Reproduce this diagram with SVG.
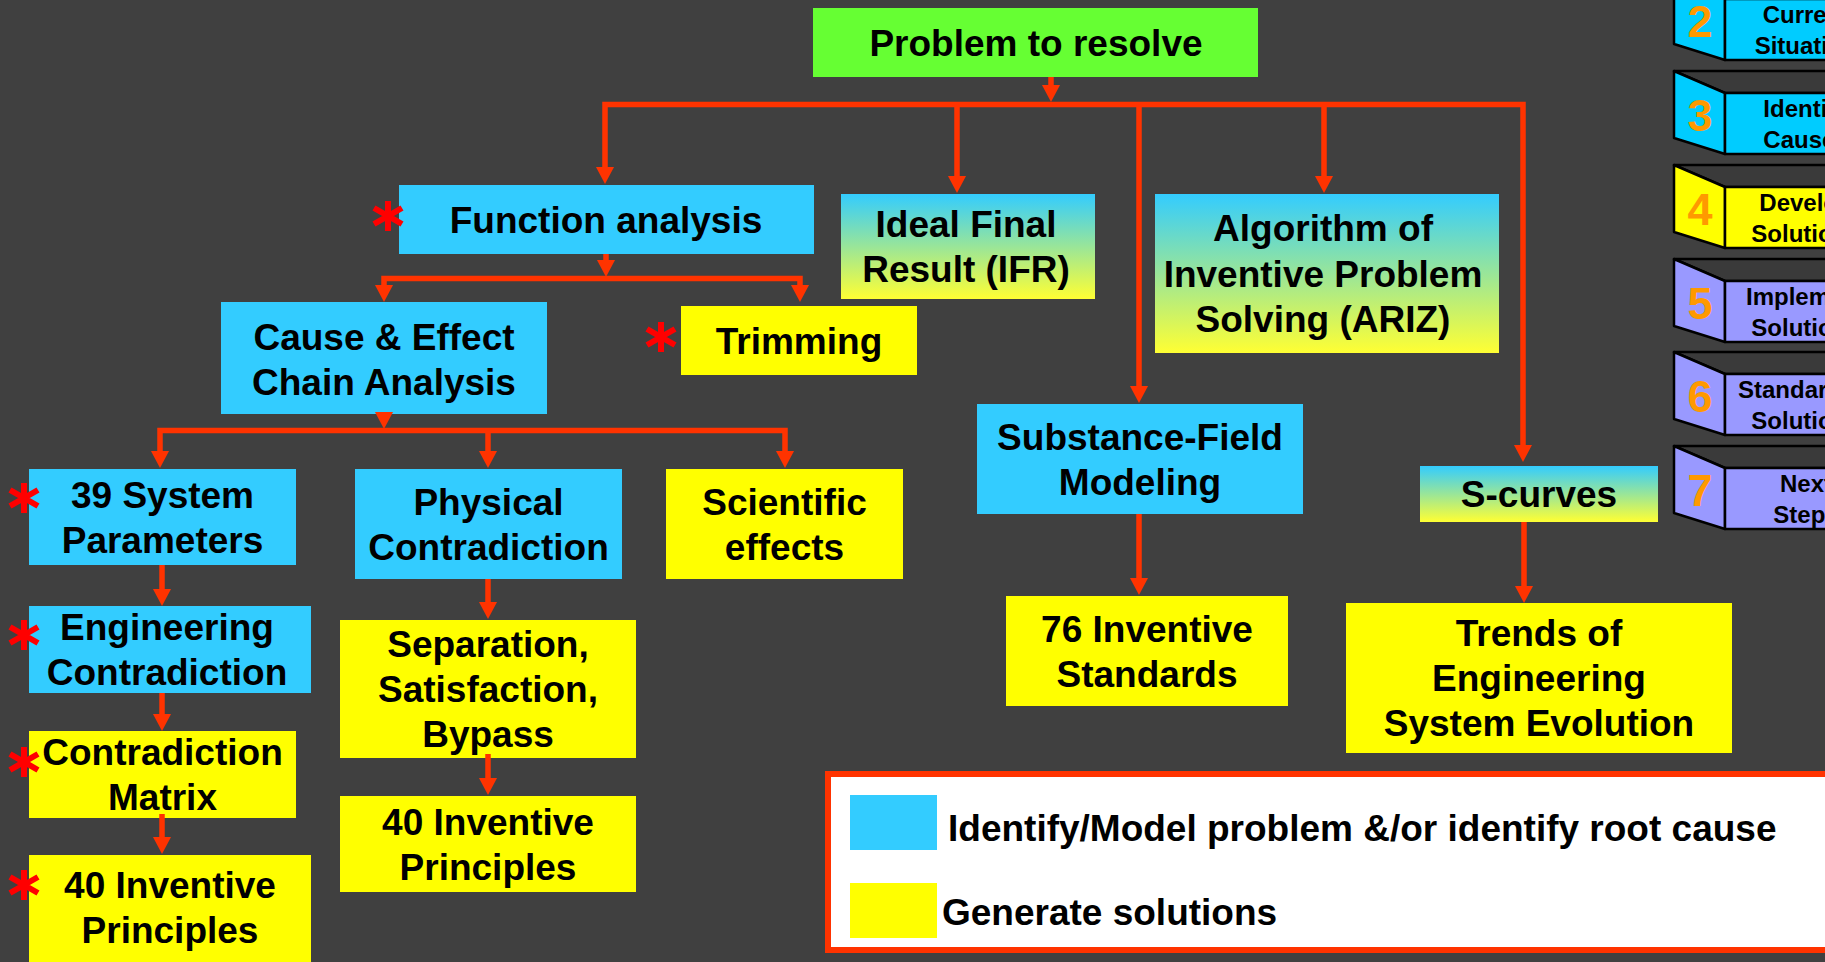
<svg xmlns="http://www.w3.org/2000/svg" xmlns:xlink="http://www.w3.org/1999/xlink" width="1825" height="962" viewBox="0 0 1825 962">
<defs>
<linearGradient id="cyg" x1="0" y1="0" x2="0" y2="1"><stop offset="0" stop-color="#33CCFF"/><stop offset="1" stop-color="#FFFF33"/></linearGradient>
<path id="ah" d="M-9,-17 L9,-17 L0,0 Z" fill="#FF3300"/>
<path id="ast" d="M0,-15 V15 M-14,-8 L14,8 M-14,8 L14,-8" fill="none" stroke="#FF0000" stroke-width="6"/>
</defs>
<style>
.t{font-family:"Liberation Sans",Arial,sans-serif;font-weight:bold;font-size:37px;text-anchor:middle;fill:#000}
.cy{fill:#33CCFF}.ye{fill:#FFFF00}.gr{fill:url(#cyg)}
.c{fill:none;stroke:#FF3300;stroke-width:5.5}
.sf{stroke:#000;stroke-width:2.5;stroke-linejoin:round}
.num{font-family:"Liberation Sans",Arial,sans-serif;font-weight:bold;font-size:45px;text-anchor:middle;fill:#FF9900}
.st{font-family:"Liberation Sans",Arial,sans-serif;font-weight:bold;font-size:24px;text-anchor:middle;fill:#000}
.lg{font-family:"Liberation Sans",Arial,sans-serif;font-weight:bold;font-size:37px;fill:#000}
</style>
<rect x="0" y="0" width="1825" height="962" fill="#404040"/>

<g id="problem"><rect x="813" y="8" width="445" height="69" fill="#66FF33"/><text class="t" x="1036" y="56">Problem to resolve</text></g>
<g id="function-analysis"><rect class="cy" x="399" y="185" width="415" height="69"/><text class="t" x="606" y="233">Function analysis</text><use xlink:href="#ast" x="388" y="216"/></g>
<g id="ifr"><rect class="gr" x="841" y="194" width="254" height="105"/><text class="t"><tspan x="966" y="237">Ideal Final</tspan><tspan x="966" y="282">Result (IFR)</tspan></text></g>
<g id="ariz"><rect class="gr" x="1155" y="194" width="344" height="159"/><text class="t"><tspan x="1323" y="241">Algorithm of</tspan><tspan x="1323" y="286.5">Inventive Problem</tspan><tspan x="1323" y="332">Solving (ARIZ)</tspan></text></g>
<g id="cause-effect"><rect class="cy" x="221" y="302" width="326" height="112"/><text class="t"><tspan x="384" y="349.5">Cause &amp; Effect</tspan><tspan x="384" y="394.5">Chain Analysis</tspan></text></g>
<g id="trimming"><rect class="ye" x="681" y="306" width="236" height="69"/><text class="t" x="799" y="353.5">Trimming</text><use xlink:href="#ast" x="661" y="337"/></g>
<g id="system-parameters"><rect class="cy" x="29" y="469" width="267" height="96"/><text class="t"><tspan x="162.5" y="507.5">39 System</tspan><tspan x="162.5" y="552.5">Parameters</tspan></text><use xlink:href="#ast" x="24" y="498"/></g>
<g id="physical-contradiction"><rect class="cy" x="355" y="469" width="267" height="110"/><text class="t"><tspan x="488.5" y="514.5">Physical</tspan><tspan x="488.5" y="559.5">Contradiction</tspan></text></g>
<g id="scientific-effects"><rect class="ye" x="666" y="469" width="237" height="110"/><text class="t"><tspan x="784.5" y="514.5">Scientific</tspan><tspan x="784.5" y="559.5">effects</tspan></text></g>
<g id="engineering-contradiction"><rect class="cy" x="29" y="606" width="282" height="87"/><text class="t"><tspan x="167" y="640">Engineering</tspan><tspan x="167" y="685">Contradiction</tspan></text><use xlink:href="#ast" x="24" y="635"/></g>
<g id="contradiction-matrix"><rect class="ye" x="29" y="731" width="267" height="87"/><text class="t"><tspan x="162.5" y="765">Contradiction</tspan><tspan x="162.5" y="810">Matrix</tspan></text><use xlink:href="#ast" x="24" y="762"/></g>
<g id="inventive-principles-1"><rect class="ye" x="29" y="855" width="282" height="115"/><text class="t"><tspan x="170" y="898">40 Inventive</tspan><tspan x="170" y="943">Principles</tspan></text><use xlink:href="#ast" x="24" y="885"/></g>
<g id="separation"><rect class="ye" x="340" y="620" width="296" height="138"/><text class="t"><tspan x="488" y="656.5">Separation,</tspan><tspan x="488" y="701.5">Satisfaction,</tspan><tspan x="488" y="746.5">Bypass</tspan></text></g>
<g id="inventive-principles-2"><rect class="ye" x="340" y="796" width="296" height="96"/><text class="t"><tspan x="488" y="835">40 Inventive</tspan><tspan x="488" y="879.5">Principles</tspan></text></g>
<g id="substance-field"><rect class="cy" x="977" y="404" width="326" height="110"/><text class="t"><tspan x="1140" y="449.5">Substance-Field</tspan><tspan x="1140" y="494.5">Modeling</tspan></text></g>
<g id="inventive-standards"><rect class="ye" x="1006" y="596" width="282" height="110"/><text class="t"><tspan x="1147" y="642">76 Inventive</tspan><tspan x="1147" y="687">Standards</tspan></text></g>
<g id="s-curves"><rect class="gr" x="1420" y="466" width="238" height="56"/><text class="t" x="1539" y="507">S-curves</text></g>
<g id="trends"><rect class="ye" x="1346" y="603" width="386" height="150"/><text class="t"><tspan x="1539" y="646">Trends of</tspan><tspan x="1539" y="691">Engineering</tspan><tspan x="1539" y="736">System Evolution</tspan></text></g>

<g id="connectors">
<path class="c" d="M1051,77 V96"/>
<path class="c" d="M605,178 V104.5 H1523 V456"/>
<path class="c" d="M957,104.5 V187"/>
<path class="c" d="M1139,104.5 V397"/>
<path class="c" d="M1324,104.5 V187"/>
<path class="c" d="M606,254 V271"/>
<path class="c" d="M384,296 V278.5 H800 V296"/>
<path class="c" d="M384,414 V423"/>
<path class="c" d="M160,462 V430.5 H785 V462"/>
<path class="c" d="M488,430.5 V462"/>
<path class="c" d="M162,565 V600"/>
<path class="c" d="M162,693 V725"/>
<path class="c" d="M162,814 V848"/>
<path class="c" d="M488,579 V613"/>
<path class="c" d="M488,754 V789"/>
<path class="c" d="M1139,514 V589"/>
<path class="c" d="M1524,522 V597"/>
<use xlink:href="#ah" x="1051" y="102"/>
<use xlink:href="#ah" x="605" y="184"/>
<use xlink:href="#ah" x="1523" y="462"/>
<use xlink:href="#ah" x="957" y="193"/>
<use xlink:href="#ah" x="1139" y="403"/>
<use xlink:href="#ah" x="1324" y="193"/>
<use xlink:href="#ah" x="606" y="277"/>
<use xlink:href="#ah" x="384" y="302"/>
<use xlink:href="#ah" x="800" y="302"/>
<use xlink:href="#ah" x="384" y="429"/>
<use xlink:href="#ah" x="160" y="468"/>
<use xlink:href="#ah" x="488" y="468"/>
<use xlink:href="#ah" x="785" y="468"/>
<use xlink:href="#ah" x="162" y="606"/>
<use xlink:href="#ah" x="162" y="731"/>
<use xlink:href="#ah" x="162" y="854"/>
<use xlink:href="#ah" x="488" y="619"/>
<use xlink:href="#ah" x="488" y="795"/>
<use xlink:href="#ah" x="1139" y="595"/>
<use xlink:href="#ah" x="1524" y="603"/>
</g>

<g id="legend">
<rect x="828" y="774" width="1100" height="176" fill="#FFFFFF" stroke="#FF3300" stroke-width="6"/>
<rect class="cy" x="850" y="795" width="87" height="55"/>
<rect class="ye" x="850" y="883" width="87" height="55"/>
<text class="lg" x="948" y="841">Identify/Model problem &amp;/or identify root cause</text>
<text class="lg" x="942" y="925">Generate solutions</text>
</g>

<g id="step2">
<path class="sf" fill="#3a3a3a" d="M1674,-23 H1835 V-1 H1725 Z"/>
<path class="sf" fill="#00CCFF" d="M1674,-23 L1725,-1 V60 L1674,44 Z"/>
<rect class="sf" fill="#00CCFF" x="1725" y="-1" width="110" height="61"/>
<text class="num" x="1700" y="37">2</text>
<text class="st"><tspan x="1806" y="23">Current</tspan><tspan x="1806" y="54">Situation</tspan></text>
</g>
<g id="step3">
<path class="sf" fill="#3a3a3a" d="M1674,71 H1835 V93 H1725 Z"/>
<path class="sf" fill="#00CCFF" d="M1674,71 L1725,93 V154 L1674,138 Z"/>
<rect class="sf" fill="#00CCFF" x="1725" y="93" width="110" height="61"/>
<text class="num" x="1700" y="131">3</text>
<text class="st"><tspan x="1806" y="117">Identify</tspan><tspan x="1806" y="148">Causes</tspan></text>
</g>
<g id="step4">
<path class="sf" fill="#3a3a3a" d="M1674,165 H1835 V187 H1725 Z"/>
<path class="sf" fill="#FFFF00" d="M1674,165 L1725,187 V248 L1674,232 Z"/>
<rect class="sf" fill="#FFFF00" x="1725" y="187" width="110" height="61"/>
<text class="num" x="1700" y="225">4</text>
<text class="st"><tspan x="1806" y="211">Develop</tspan><tspan x="1806" y="242">Solutions</tspan></text>
</g>
<g id="step5">
<path class="sf" fill="#3a3a3a" d="M1674,259 H1835 V281 H1725 Z"/>
<path class="sf" fill="#9999FF" d="M1674,259 L1725,281 V342 L1674,326 Z"/>
<rect class="sf" fill="#9999FF" x="1725" y="281" width="110" height="61"/>
<text class="num" x="1700" y="319">5</text>
<text class="st"><tspan x="1806" y="305">Implement</tspan><tspan x="1806" y="336">Solutions</tspan></text>
</g>
<g id="step6">
<path class="sf" fill="#3a3a3a" d="M1674,352 H1835 V374 H1725 Z"/>
<path class="sf" fill="#9999FF" d="M1674,352 L1725,374 V435 L1674,419 Z"/>
<rect class="sf" fill="#9999FF" x="1725" y="374" width="110" height="61"/>
<text class="num" x="1700" y="412">6</text>
<text class="st"><tspan x="1806" y="398">Standardize</tspan><tspan x="1806" y="429">Solutions</tspan></text>
</g>
<g id="step7">
<path class="sf" fill="#3a3a3a" d="M1674,446 H1835 V468 H1725 Z"/>
<path class="sf" fill="#9999FF" d="M1674,446 L1725,468 V529 L1674,513 Z"/>
<rect class="sf" fill="#9999FF" x="1725" y="468" width="110" height="61"/>
<text class="num" x="1700" y="506">7</text>
<text class="st"><tspan x="1806" y="492">Next</tspan><tspan x="1806" y="523">Steps</tspan></text>
</g>
</svg>
